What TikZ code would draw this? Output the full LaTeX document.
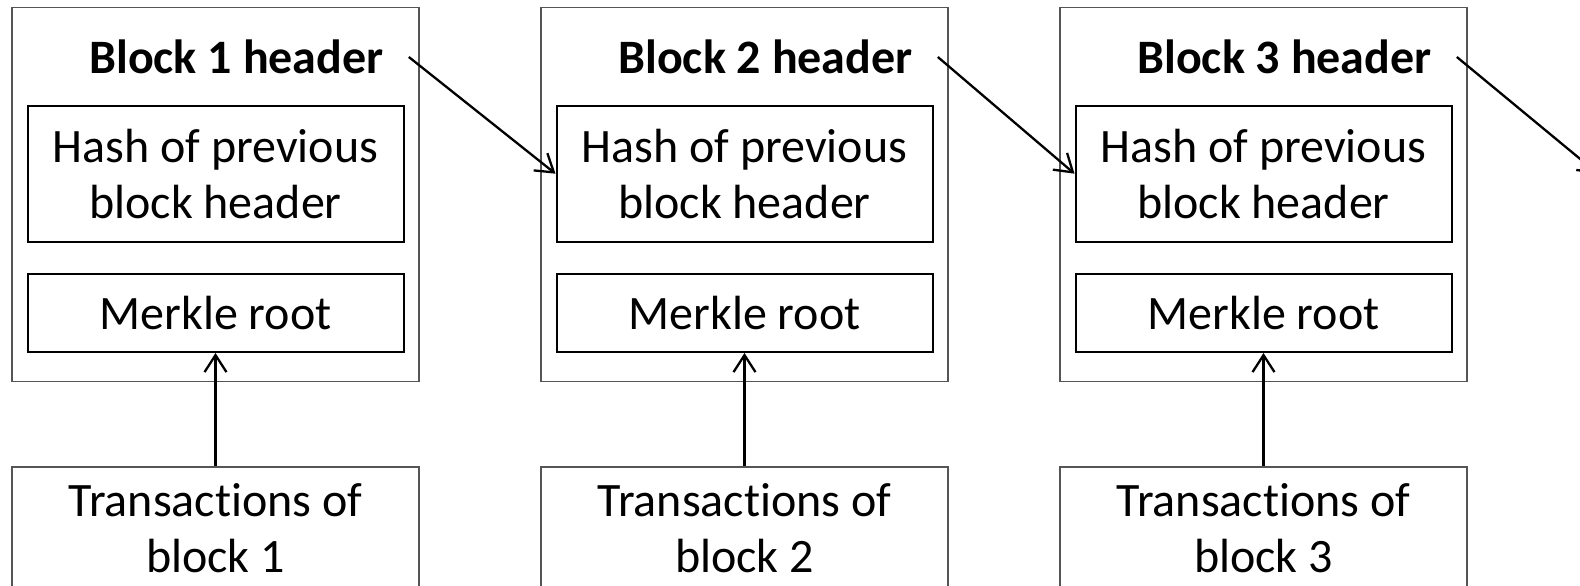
\documentclass[tikz,border=0pt]{standalone}
\usepackage{fontspec}
\setmainfont{Carlito}[Ligatures={NoCommon}]
\usetikzlibrary{arrows.meta}
\definecolor{framegray}{HTML}{555555}
\begin{document}
\begin{tikzpicture}[x=1pt,y=-1pt,
  outerbox/.style={draw=framegray, line width=1.5pt, minimum width=407pt, inner sep=0pt},
  innerbox/.style={draw=black, line width=2pt, minimum width=376pt, inner sep=0pt,
                   font=\fontsize{48}{56}\selectfont, align=center},
  lbl/.style={font=\fontsize{48}{56}\selectfont, align=center, inner sep=0pt},
  hdr/.style={font=\fontsize{48}{56}\selectfont\bfseries, inner sep=0pt},
  link/.style={draw=black, line width=2.3pt, -{Straight Barb[length=17pt,width=22pt]}}]
\useasboundingbox (0,0) rectangle (1580,586);

% one column per block: header frame, its two fields, and the transactions below
\foreach \i/\xl in {1/12,2/541,3/1060}{
  \node[outerbox, minimum height=374pt] (block\i) at (\xl+203.5, 194.5) {};
  \node[hdr] (hdr\i) at (\xl+224.5, 57) {Block \i{} header};
  \node[innerbox, minimum height=136pt] (hash\i) at (\xl+203.5, 173.7) {Hash of previous\\block header};
  \node[innerbox, minimum height=78pt] (merkle\i) at (\xl+203.5, 313) {Merkle root};
  \node[outerbox, minimum height=240pt, anchor=north] (tx\i) at (\xl+203.5, 466) {};
  \node[lbl] (txt\i) at (\xl+203.5, 528) {Transactions of\\block \i};
  \draw[link] (tx\i.north) -- (merkle\i.south);
}

% chain of header hashes
\coordinate (next) at (1598, 173.7);
\draw[link] ([xshift=25pt]hdr1.east) -- (hash2.west);
\draw[link] ([xshift=25pt]hdr2.east) -- (hash3.west);
\draw[link] ([xshift=25pt]hdr3.east) -- (next);
\end{tikzpicture}
\end{document}
